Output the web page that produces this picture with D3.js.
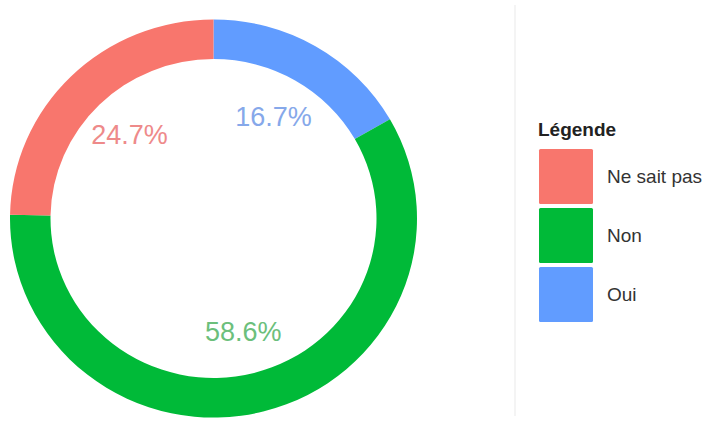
<!DOCTYPE html>
<html>
<head>
<meta charset="utf-8">
<script src="https://cdn.jsdelivr.net/npm/d3@7"></script>
<style>
  html, body { margin: 0; padding: 0; background: #fff; }
  svg { display: block; }
</style>
</head>
<body>
<svg id="chart" width="711" height="421"></svg>
<script>
const categories = ["Ne sait pas", "Non", "Oui"];
const values = [24.7, 58.6, 16.7];
const colors = ["#F8766D", "#00BA38", "#619CFF"];
const labelColors = ["#ee8a8a", "#6cbf7c", "#86a8ea"];
const legendTitle = "Légende";

const svg = d3.select("#chart");

const data = categories.map((c, i) => ({ cat: c, value: values[i], i }));
// drawing order: clockwise from 12 o'clock, last category first
const drawOrder = data.slice().reverse();

const pie = d3.pie().sort(null).value(d => d.value);
const arcs = pie(drawOrder);

const outerR = 203.5, innerR = 163;
const arc = d3.arc().innerRadius(innerR).outerRadius(outerR);
const labelArc = d3.arc().innerRadius(120).outerRadius(120);

const g = svg.append("g").attr("transform", "translate(213.5,218.5) scale(1,0.978)");

g.selectAll("path.slice")
  .data(arcs)
  .join("path")
  .attr("class", "slice")
  .attr("d", arc)
  .attr("fill", d => colors[d.data.i]);

const lg = svg.append("g").attr("transform", "translate(213.5,218.5)");
lg.selectAll("text.lbl")
  .data(arcs)
  .join("text")
  .attr("class", "lbl")
  .attr("x", d => labelArc.centroid(d)[0])
  .attr("y", d => labelArc.centroid(d)[1] * 0.978)
  .attr("text-anchor", "middle")
  .attr("dominant-baseline", "central")
  .attr("font-family", "Liberation Sans, Arial, sans-serif")
  .attr("font-size", 27)
  .attr("fill", d => labelColors[d.data.i])
  .text(d => d3.format(".1f")(d.data.value) + "%");

// faint separator line
svg.append("line")
  .attr("x1", 515).attr("x2", 515)
  .attr("y1", 5).attr("y2", 416)
  .attr("stroke", "#f1f1f1")
  .attr("stroke-width", 1.5);

// legend
const legend = svg.append("g").attr("transform", "translate(538,0)");
legend.append("text")
  .attr("x", 0).attr("y", 136)
  .attr("font-family", "Liberation Sans, Arial, sans-serif")
  .attr("font-size", 19)
  .attr("font-weight", "bold")
  .attr("fill", "#222")
  .text(legendTitle);

const keyY = d3.scaleBand().domain(categories).range([149, 322]).paddingInner(0.07);

const items = legend.selectAll("g.item")
  .data(data)
  .join("g")
  .attr("class", "item")
  .attr("transform", d => `translate(0,${keyY(d.cat)})`);

items.append("rect")
  .attr("x", 1).attr("y", 0)
  .attr("width", 54).attr("height", keyY.bandwidth())
  .attr("rx", 1.5)
  .attr("fill", d => colors[d.i]);

items.append("text")
  .attr("x", 69).attr("y", keyY.bandwidth() / 2)
  .attr("dominant-baseline", "central")
  .attr("font-family", "Liberation Sans, Arial, sans-serif")
  .attr("font-size", 19)
  .attr("fill", "#333")
  .text(d => d.cat);
</script>
</body>
</html>
